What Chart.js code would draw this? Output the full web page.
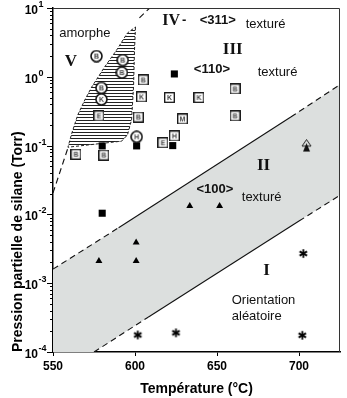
<!DOCTYPE html>
<html>
<head>
<meta charset="utf-8">
<script src="https://cdn.jsdelivr.net/npm/chart.js@4"></script>
<style>
  html, body { margin: 0; padding: 0; background: #fff; }
</style>
</head>
<body>
<canvas id="phaseChart" width="347" height="398"></canvas>
<script>
// axis ticks
const xTicks = [550, 600, 650, 700];
const yDecades = [-4, -3, -2, -1, 0, 1];

// open squares with a letter
const sqX = [564, 581, 578, 602, 604, 605, 617, 621, 624, 629, 639, 661, 661];
const sqY = [0.075, 0.073, 0.27, 0.26, 0.51, 0.90, 0.11, 0.50, 0.138, 0.244, 0.50, 0.665, 0.27];
const sqTag = ["B", "B", "E", "B", "K", "B", "E", "K", "H", "M", "K", "B", "B"];

// open circles with a letter
const circX = [576.5, 592.5, 592, 579.5, 579.5, 601];
const circY = [2.0, 1.75, 1.15, 0.69, 0.47, 0.134];
const circTag = ["B", "B", "B", "B", "K", "H"];

// filled squares, triangles, asterisks, mixed symbol
const fsqX = [580, 601, 623, 624, 580];
const fsqY = [0.099, 0.099, 0.10, 1.1, 0.0104];
const triX = [578, 600.7, 600.7, 633.4, 651.6];
const triY = [0.0021, 0.0039, 0.0021, 0.0132, 0.0132];
const starX = [601.7, 625, 702.6, 702];
const starY = [1.77e-4, 1.9e-4, 0.0027, 1.75e-4];
const mixX = [704.6];
const mixY = [0.10];

// region boundaries
const bandTopX = [550, 590, 695, 725];
const bandTopY = [1.6e-3, 6.4e-3, 0.26, 0.77];
const bandLowX = [575, 608, 700, 725];
const bandLowY = [1e-4, 3.2e-4, 8.0e-3, 0.019];
const amorphX = [600.3, 599.7, 599.1, 597.9, 595.4, 591.8, 559.1, 561.5, 565.1, 569.4, 573.6, 581.5, 588.8, 595.4, 600.3];
const amorphY = [5.3, 2.45, 0.711, 0.236, 0.143, 0.116, 0.0947, 0.152, 0.279, 0.46, 0.711, 1.39, 2.45, 4.33, 5.3];
const edgeLowX = [550, 559.1];
const edgeLowY = [0.0205, 0.0923];
const edgeTopX = [602.7, 609];
const edgeTopY = [7.2, 10];

const SANS = '"Liberation Sans", Arial, sans-serif';
const SERIF = '"Liberation Serif", "Times New Roman", serif';

function pts(xs, ys) {
  return xs.map((v, i) => ({x: v, y: ys[i]}));
}

function boxIcon(tag, round) {
  const c = document.createElement("canvas");
  const s = round ? 13 : 11;
  c.width = s; c.height = s;
  const g = c.getContext("2d");
  g.fillStyle = "#fff";
  g.strokeStyle = "#111";
  g.lineWidth = round ? 1.6 : 1.3;
  if (round) {
    g.beginPath();
    g.arc(s / 2, s / 2, s / 2 - 1, 0, Math.PI * 2);
    g.fill(); g.stroke();
  } else {
    g.fillRect(0, 0, s, s);
    g.strokeRect(0.7, 0.7, s - 1.4, s - 1.4);
  }
  g.fillStyle = "#444";
  g.font = "bold 7px " + SANS;
  g.textAlign = "center";
  g.textBaseline = "middle";
  g.fillText(tag, s / 2, s / 2 + 0.5);
  return c;
}

function starIcon() {
  const c = document.createElement("canvas");
  c.width = 11; c.height = 11;
  const g = c.getContext("2d");
  g.strokeStyle = "#000";
  g.lineWidth = 1.8;
  [90, 30, 150].forEach(d => {
    const r = d * Math.PI / 180;
    g.beginPath();
    g.moveTo(5.5 - 4.3 * Math.cos(r), 5.5 - 4.3 * Math.sin(r));
    g.lineTo(5.5 + 4.3 * Math.cos(r), 5.5 + 4.3 * Math.sin(r));
    g.stroke();
  });
  return c;
}

function mixIcon() {
  const c = document.createElement("canvas");
  c.width = 11; c.height = 13;
  const g = c.getContext("2d");
  g.strokeStyle = "#222";
  g.lineWidth = 1;
  g.beginPath();
  g.moveTo(5.5, 0.5); g.lineTo(10, 7); g.lineTo(1, 7); g.closePath();
  g.stroke();
  g.fillStyle = "#111";
  g.beginPath();
  g.moveTo(5.5, 4); g.lineTo(9, 12.5); g.lineTo(2, 12.5); g.closePath();
  g.fill();
  return c;
}

const sqIcons = sqTag.map(t => boxIcon(t, false));
const circIcons = circTag.map(t => boxIcon(t, true));
const star = starIcon();
const mix = mixIcon();

function hatch() {
  const c = document.createElement("canvas");
  c.width = 4; c.height = 3;
  const g = c.getContext("2d");
  g.fillStyle = "#fff";
  g.fillRect(0, 0, 4, 3);
  g.fillStyle = "#222";
  g.fillRect(0, 0, 4, 1);
  return document.getElementById("phaseChart").getContext("2d").createPattern(c, "repeat");
}

const bandShape = pts(bandTopX, bandTopY)
  .concat(pts(bandLowX, bandLowY).reverse())
  .concat([{x: bandTopX[0], y: bandLowY[0]}]);

const dashed = idx => ctx => idx.includes(ctx.p0DataIndex) ? [6, 4] : undefined;

// region names and texts
const notes = [
  {t: "amorphe", x: 569.4, y: 4.33, f: "13px " + SANS, a: "center"},
  {t: "V", x: 560.9, y: 1.64, f: "bold 17px " + SERIF, a: "center"},
  {t: "IV", x: 622, y: 6.48, f: "bold 16px " + SERIF, a: "center"},
  {t: "-", x: 630, y: 6.6, f: "bold 13px " + SANS, a: "center"},
  {t: "<311>", x: 650.5, y: 6.7, f: "bold 13px " + SANS, a: "center"},
  {t: "texturé", x: 667.5, y: 5.85, f: "13px " + SANS, a: "left"},
  {t: "III", x: 659.6, y: 2.45, f: "bold 17px " + SERIF, a: "center"},
  {t: "<110>", x: 646.9, y: 1.30, f: "bold 13px " + SANS, a: "center"},
  {t: "texturé", x: 674.8, y: 1.17, f: "13px " + SANS, a: "left"},
  {t: "II", x: 678.4, y: 0.0505, f: "bold 17px " + SERIF, a: "center"},
  {t: "<100>", x: 648.7, y: 0.0234, f: "bold 13px " + SANS, a: "center"},
  {t: "texturé", x: 665.1, y: 0.0179, f: "13px " + SANS, a: "left"},
  {t: "I", x: 680.2, y: 0.0015, f: "bold 17px " + SERIF, a: "center"},
  {t: "Orientation", x: 659.0, y: 5.7e-4, f: "13px " + SANS, a: "left"},
  {t: "aléatoire", x: 659.0, y: 3.33e-4, f: "13px " + SANS, a: "left"}
];

const notesPlugin = {
  id: "notes",
  afterDatasetsDraw(chart) {
    const {ctx, scales: {x, y}} = chart;
    ctx.save();
    ctx.fillStyle = "#111";
    ctx.textBaseline = "middle";
    notes.forEach(n => {
      ctx.font = n.f;
      ctx.textAlign = n.a;
      ctx.fillText(n.t, x.getPixelForValue(n.x), y.getPixelForValue(n.y));
    });
    ctx.restore();
  }
};

const framePlugin = {
  id: "frame",
  afterDraw(chart) {
    const {ctx, chartArea: a, scales: {y}} = chart;
    ctx.save();
    ctx.strokeStyle = "#333";
    ctx.lineWidth = 1;
    ctx.beginPath();
    ctx.moveTo(a.left, a.top + 0.5);
    ctx.lineTo(a.right - 0.5, a.top + 0.5);
    ctx.lineTo(a.right - 0.5, a.bottom);
    ctx.stroke();

    ctx.strokeStyle = "#000";
    ctx.fillStyle = "#000";
    yDecades.forEach((e, i) => {
      const py = Math.round(y.getPixelForValue(Math.pow(10, e))) + 0.5;
      ctx.beginPath();
      ctx.moveTo(a.left - 6, py); ctx.lineTo(a.left, py);
      ctx.stroke();
      if (i < yDecades.length - 1) {
        for (let m = 2; m <= 9; m++) {
          const pm = Math.round(y.getPixelForValue(m * Math.pow(10, e))) + 0.5;
          ctx.beginPath();
          ctx.moveTo(a.left - 3, pm); ctx.lineTo(a.left, pm);
          ctx.stroke();
        }
      }
      ctx.textBaseline = "middle";
      ctx.font = "bold 12px " + SANS;
      ctx.textAlign = "right";
      ctx.fillText("10", 38, py + 2);
      ctx.font = "bold 9px " + SANS;
      ctx.textAlign = "left";
      ctx.fillText(String(e), 38.5, py - 4);
    });
    ctx.restore();
  }
};

Chart.defaults.font.family = SANS;
Chart.defaults.color = "#000";

new Chart(document.getElementById("phaseChart"), {
  type: "scatter",
  data: {
    datasets: [
      {data: pts(sqX, sqY), pointStyle: ctx => sqIcons[ctx.dataIndex], pointRadius: 5, order: 1},
      {data: pts(circX, circY), pointStyle: ctx => circIcons[ctx.dataIndex], pointRadius: 6, order: 1},
      {data: pts(fsqX, fsqY), pointStyle: "rect", pointRadius: 5, backgroundColor: "#000", borderColor: "#000", borderWidth: 0, order: 1},
      {data: pts(triX, triY), pointStyle: "triangle", pointRadius: 4, backgroundColor: "#000", borderColor: "#000", borderWidth: 0, order: 1},
      {data: pts(starX, starY), pointStyle: star, pointRadius: 5, order: 1},
      {data: pts(mixX, mixY), pointStyle: mix, pointRadius: 5, order: 1},
      {data: pts(bandTopX, bandTopY), showLine: true, pointRadius: 0, borderColor: "#111", borderWidth: 1.1,
        segment: {borderDash: dashed([0, 2])}, order: 5},
      {data: pts(bandLowX, bandLowY), showLine: true, pointRadius: 0, borderColor: "#111", borderWidth: 1.1,
        segment: {borderDash: dashed([0, 2])}, order: 5},
      {data: pts(edgeLowX, edgeLowY), showLine: true, pointRadius: 0, borderColor: "#111", borderWidth: 1.1,
        borderDash: [6, 4], order: 5},
      {data: pts(edgeTopX, edgeTopY), showLine: true, pointRadius: 0, borderColor: "#111", borderWidth: 1.1,
        borderDash: [6, 4], order: 5},
      {data: pts(amorphX, amorphY), showLine: true, pointRadius: 0, fill: "shape", backgroundColor: hatch(),
        borderColor: "#222", borderWidth: 1, borderDash: [3, 2], order: 8},
      {data: bandShape, showLine: true, pointRadius: 0, fill: "shape", backgroundColor: "#dcdfde",
        borderWidth: 0, order: 10}
    ]
  },
  options: {
    responsive: false,
    animation: false,
    layout: {padding: {top: 8, right: 5, left: 0, bottom: 0}},
    plugins: {legend: {display: false}, tooltip: {enabled: false}},
    scales: {
      x: {
        type: "linear",
        min: 550,
        max: 725,
        afterBuildTicks: s => { s.ticks = xTicks.map(v => ({value: v})); },
        afterFit: s => { s.height = 46; },
        ticks: {font: {size: 12, weight: "bold"}, color: "#000", padding: 3},
        grid: {drawOnChartArea: false, drawTicks: true, tickLength: 4, color: "#000"},
        border: {display: true, color: "#000", width: 1.5},
        title: {display: true, text: "Température (°C)", font: {size: 14, weight: "bold"}, color: "#000", padding: {top: 0, bottom: 0}}
      },
      y: {
        type: "logarithmic",
        min: 1e-4,
        max: 10,
        afterFit: s => { s.width = 53; },
        ticks: {display: false},
        grid: {display: false},
        border: {display: true, color: "#000", width: 1.5},
        title: {display: true, text: "Pression partielle de silane (Torr)", align: "start",
          font: {size: 14, weight: "bold"}, color: "#000", padding: {top: 10, bottom: 0}}
      }
    }
  },
  plugins: [notesPlugin, framePlugin]
});
</script>
</body>
</html>
